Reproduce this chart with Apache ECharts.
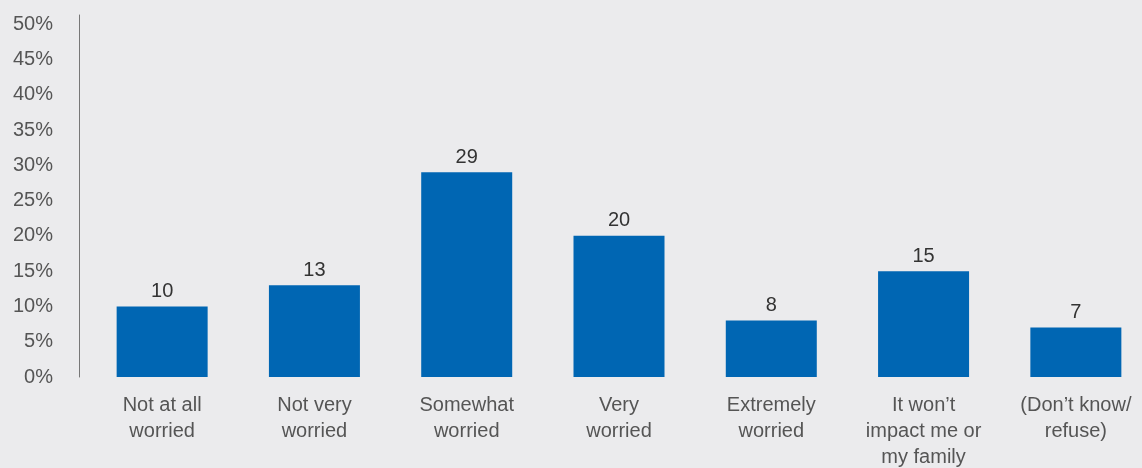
<!DOCTYPE html>
<html>
<head>
<meta charset="utf-8">
<script src="https://cdn.jsdelivr.net/npm/echarts@6/dist/echarts.min.js"></script>
<style>
  html, body { margin: 0; padding: 0; background: #ebebed; overflow: hidden; }
  #main { width: 1142px; height: 468px; }
</style>
</head>
<body>
<div id="main"></div>
<script>
// answer categories and share of respondents (%)
var categories = ['Not at all\nworried', 'Not very\nworried', 'Somewhat\nworried', 'Very\nworried',
    'Extremely\nworried', 'It won\u2019t\nimpact me or\nmy family', '(Don\u2019t know/\nrefuse)'];
var values = [10, 13, 29, 20, 8, 15, 7];

var myChart = echarts.init(document.getElementById('main'));

var option = {
    animation: false,
    backgroundColor: '#ebebed',
    textStyle: {
        fontFamily: 'Liberation Sans, Arial, sans-serif'
    },
    grid: {
        left: 86,
        top: 15,
        width: 1066,
        bottom: 91,
        outerBoundsMode: 'none'
    },
    xAxis: {
        type: 'category',
        data: categories,
        axisLine: { show: false },
        axisTick: { show: false },
        axisLabel: {
            interval: 0,
            margin: 15,
            color: '#555',
            fontSize: 20,
            lineHeight: 26,
            verticalAlign: 'top'
        }
    },
    yAxis: {
        type: 'value',
        min: 0,
        max: 51.3,
        interval: 5,
        offset: 7,
        splitLine: { show: false },
        axisTick: { show: false },
        axisLine: {
            show: true,
            lineStyle: { color: '#777', width: 1 }
        },
        axisLabel: {
            showMaxLabel: false,
            margin: 26,
            color: '#555',
            fontSize: 20,
            formatter: '{value}%'
        }
    },
    series: [{
        type: 'bar',
        data: values,
        barWidth: 91,
        itemStyle: { color: '#0066b3' },
        label: {
            show: true,
            position: 'top',
            distance: 5,
            color: '#333',
            fontSize: 20
        }
    }]
};

myChart.setOption(option);
</script>
</body>
</html>
